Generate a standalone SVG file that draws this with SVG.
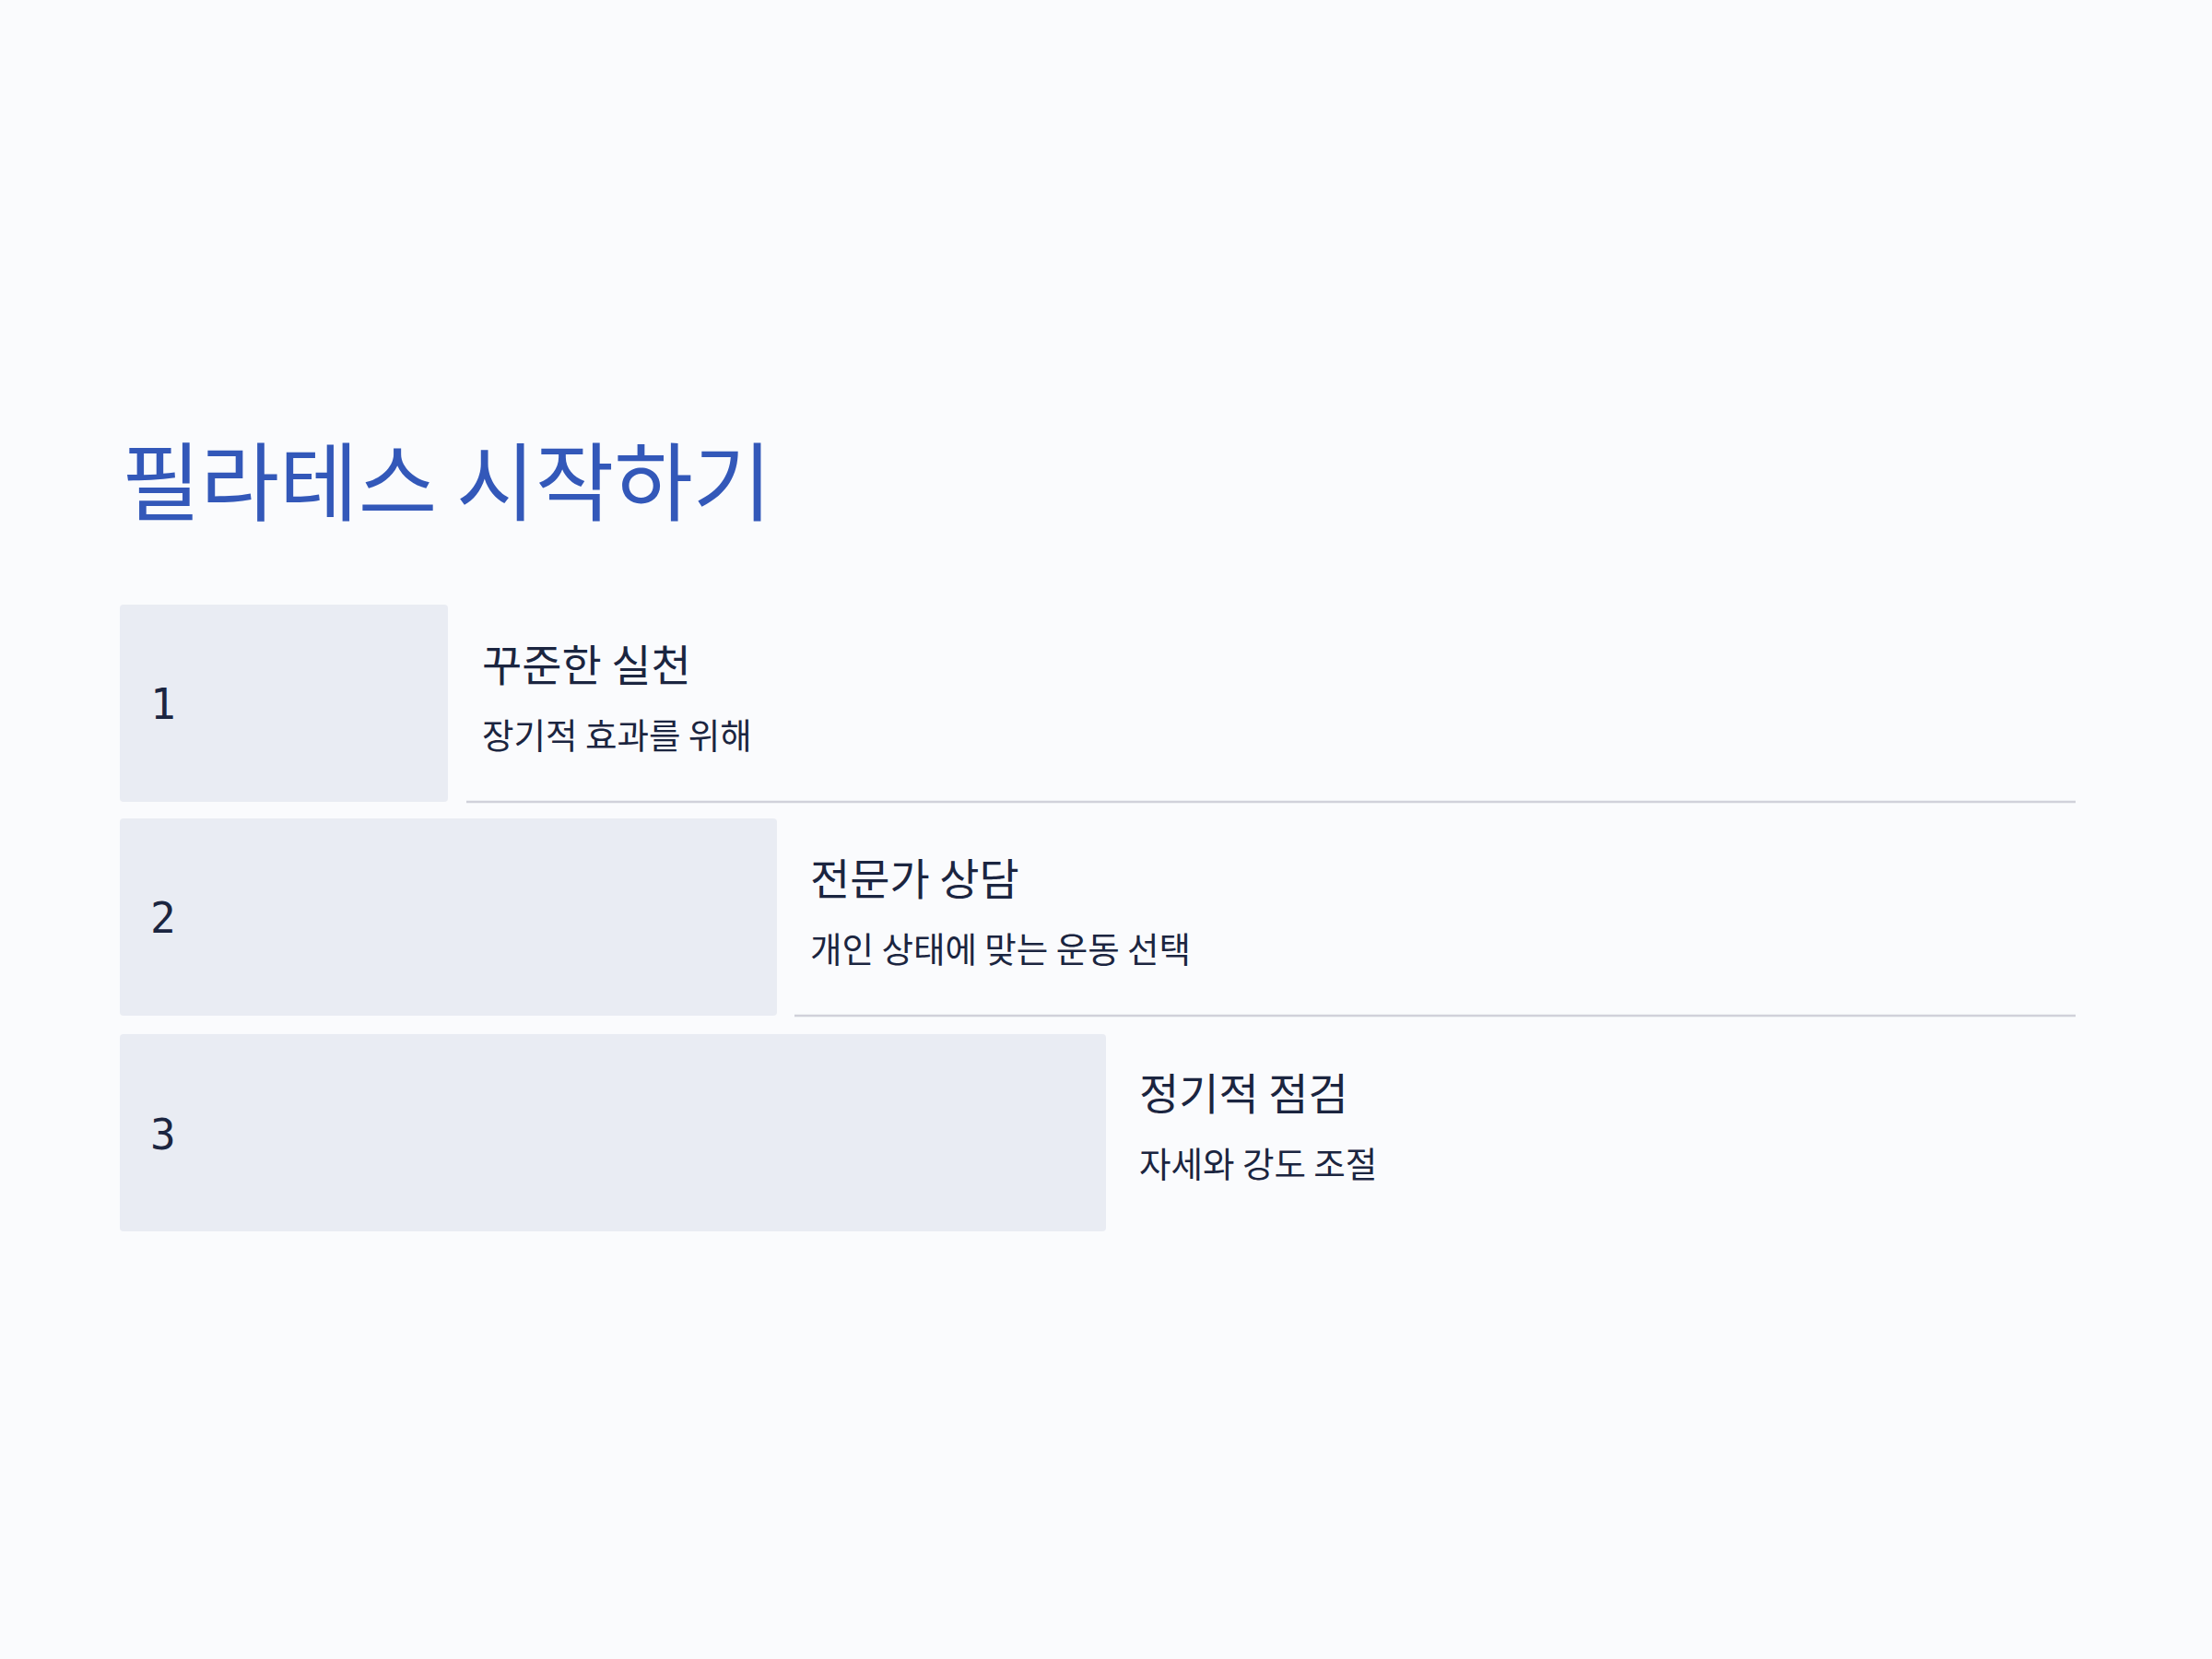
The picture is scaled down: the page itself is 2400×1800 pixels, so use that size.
<svg xmlns="http://www.w3.org/2000/svg" width="2400" height="1800" viewBox="0 0 2400 1800">
<style>
.bg{fill:#fafbfd}
.box{fill:#e9ecf3}
.num{font-family:"DejaVu Sans Mono","Liberation Mono",monospace;font-size:46px;fill:#1b2540}
.head{font-family:"Noto Sans CJK KR","Noto Sans",sans-serif;font-size:47px;fill:#1b2540}
.sub{font-family:"Noto Sans CJK KR","Noto Sans",sans-serif;font-size:37.5px;fill:#1b2540}
.title{font-family:"Noto Sans CJK KR","Noto Sans",sans-serif;font-size:93px;fill:#3358b9}
.sep{stroke:#d0d1da;stroke-width:2.5}
</style>
<rect class="bg" x="0" y="0" width="2400" height="1800"/>
<g id="title"><text class="title" x="132" y="558">필라테스 시작하기</text></g>
<g id="connectors">
<line class="sep" x1="506" y1="870" x2="2252" y2="870"/>
<line class="sep" x1="862" y1="1102" x2="2252" y2="1102"/>
</g>
<g id="step1">
<rect class="box" x="130" y="656" width="356" height="214" rx="4"/>
<text class="num" x="163" y="780">1</text>
<text class="head" x="523" y="739">꾸준한 실천</text>
<text class="sub" x="523" y="812">장기적 효과를 위해</text>
</g>
<g id="step2">
<rect class="box" x="130" y="888" width="713" height="214" rx="4"/>
<text class="num" x="163" y="1012">2</text>
<text class="head" x="879" y="971">전문가 상담</text>
<text class="sub" x="879" y="1044">개인 상태에 맞는 운동 선택</text>
</g>
<g id="step3">
<rect class="box" x="130" y="1122" width="1070" height="214" rx="4"/>
<text class="num" x="163" y="1247">3</text>
<text class="head" x="1236" y="1204">정기적 점검</text>
<text class="sub" x="1236" y="1277">자세와 강도 조절</text>
</g>
</svg>
